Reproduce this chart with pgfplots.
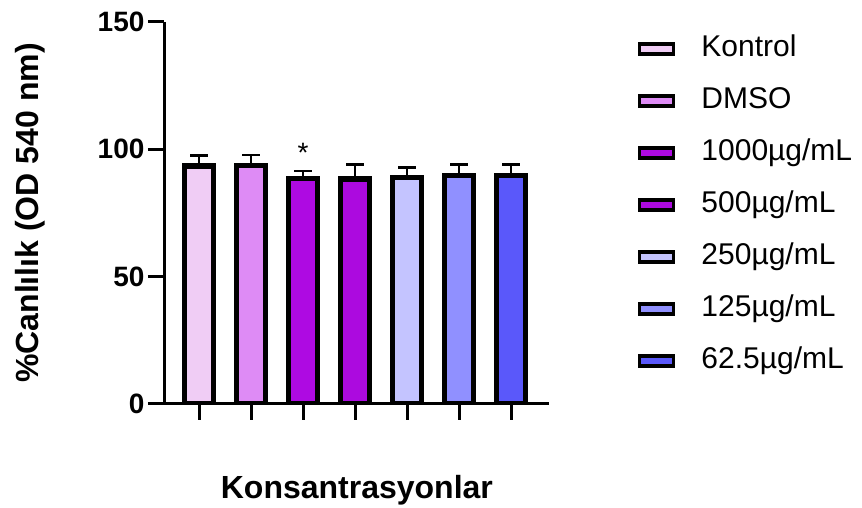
\documentclass[border=0pt]{standalone}
\usepackage{pgfplots}
\pgfplotsset{compat=1.18}
\usepackage{fontspec}
\setmainfont{Liberation Sans}
\definecolor{c1}{RGB}{240,205,245}
\definecolor{c2}{RGB}{222,139,245}
\definecolor{c3}{RGB}{174,10,226}
\definecolor{c4}{RGB}{172,10,223}
\definecolor{c5}{RGB}{196,196,255}
\definecolor{c6}{RGB}{144,144,255}
\definecolor{c7}{RGB}{90,88,250}
\newcommand{\tickfont}{\fontsize{28}{28}\selectfont\bfseries}
\newcommand{\labfont}{\fontsize{32}{32}\selectfont\bfseries}
\newcommand{\legfont}{\fontsize{30}{30}\selectfont}
\begin{document}
\begin{tikzpicture}[x=1pt,y=1pt]
\path[use as bounding box] (0,0) rectangle (862,508);
\begin{axis}[
  at={(164pt,104pt)}, anchor=south west,
  scale only axis, width=385pt, height=382pt,
  xmin=-0.673, xmax=6.73, ymin=0, ymax=150,
  axis x line=bottom, axis y line=left,
  axis line style={-, line width=3pt, black},
  ytick={0,50,100,150}, xtick={0,1,2,3,4,5,6}, xticklabels={},
  tick align=outside, major tick length=16pt,
  tick style={line width=3pt, black},
  /pgf/number format/assume math mode=true,
  yticklabel style={font=\tickfont},
  xlabel={Konsantrasyonlar},
  ylabel={\%Canlılık (OD 540 nm)},
  xlabel style={font=\labfont, at={(axis description cs:0.501,-0.225)}, anchor=center},
  ylabel style={font=\labfont, at={(axis description cs:-0.348,0.5)}, anchor=center, rotate=0},
  legend image code/.code={\draw[#1,draw=black,line width=3.5pt] (0pt,-5pt) rectangle (34pt,5pt); \path[draw=none,fill=none] (0pt,0pt) -- (62pt,0pt);},
  legend style={at={(axis description cs:1.2299,0.9636)}, anchor=north west, draw=none, fill=none,
    font=\legfont, inner sep=0pt, row sep=26pt,
    nodes={inner sep=0pt, text height=20pt, text depth=6pt}},
  legend cell align=left,
  every axis plot/.append style={ybar, bar width=29pt, bar shift=0pt, draw=black, line width=5.5pt,
    error bars/y dir=plus, error bars/y explicit,
    error bars/error bar style={line width=2.5pt, black},
    error bars/error mark options={rotate=90, mark size=9pt, line width=2.5pt, black}},
]
\addplot[fill=c1] coordinates {(0,93.4) +- (0,4.1)};
\addlegendentry{Kontrol}
\addplot[fill=c2] coordinates {(1,93.7) +- (0,4.1)};
\addlegendentry{DMSO}
\addplot[fill=c3] coordinates {(2,88.6) +- (0,2.8)};
\addlegendentry{1000µg/mL}
\addplot[fill=c4] coordinates {(3,88.3) +- (0,5.8)};
\addlegendentry{500µg/mL}
\addplot[fill=c5] coordinates {(4,89.0) +- (0,3.8)};
\addlegendentry{250µg/mL}
\addplot[fill=c6] coordinates {(5,89.7) +- (0,4.3)};
\addlegendentry{125µg/mL}
\addplot[fill=c7] coordinates {(6,89.7) +- (0,4.3)};
\addlegendentry{62.5µg/mL}
\node[font=\fontsize{28}{28}\selectfont, inner sep=0pt, anchor=north] at (axis cs:2,102.6) {*};
\end{axis}
\end{tikzpicture}
\end{document}
